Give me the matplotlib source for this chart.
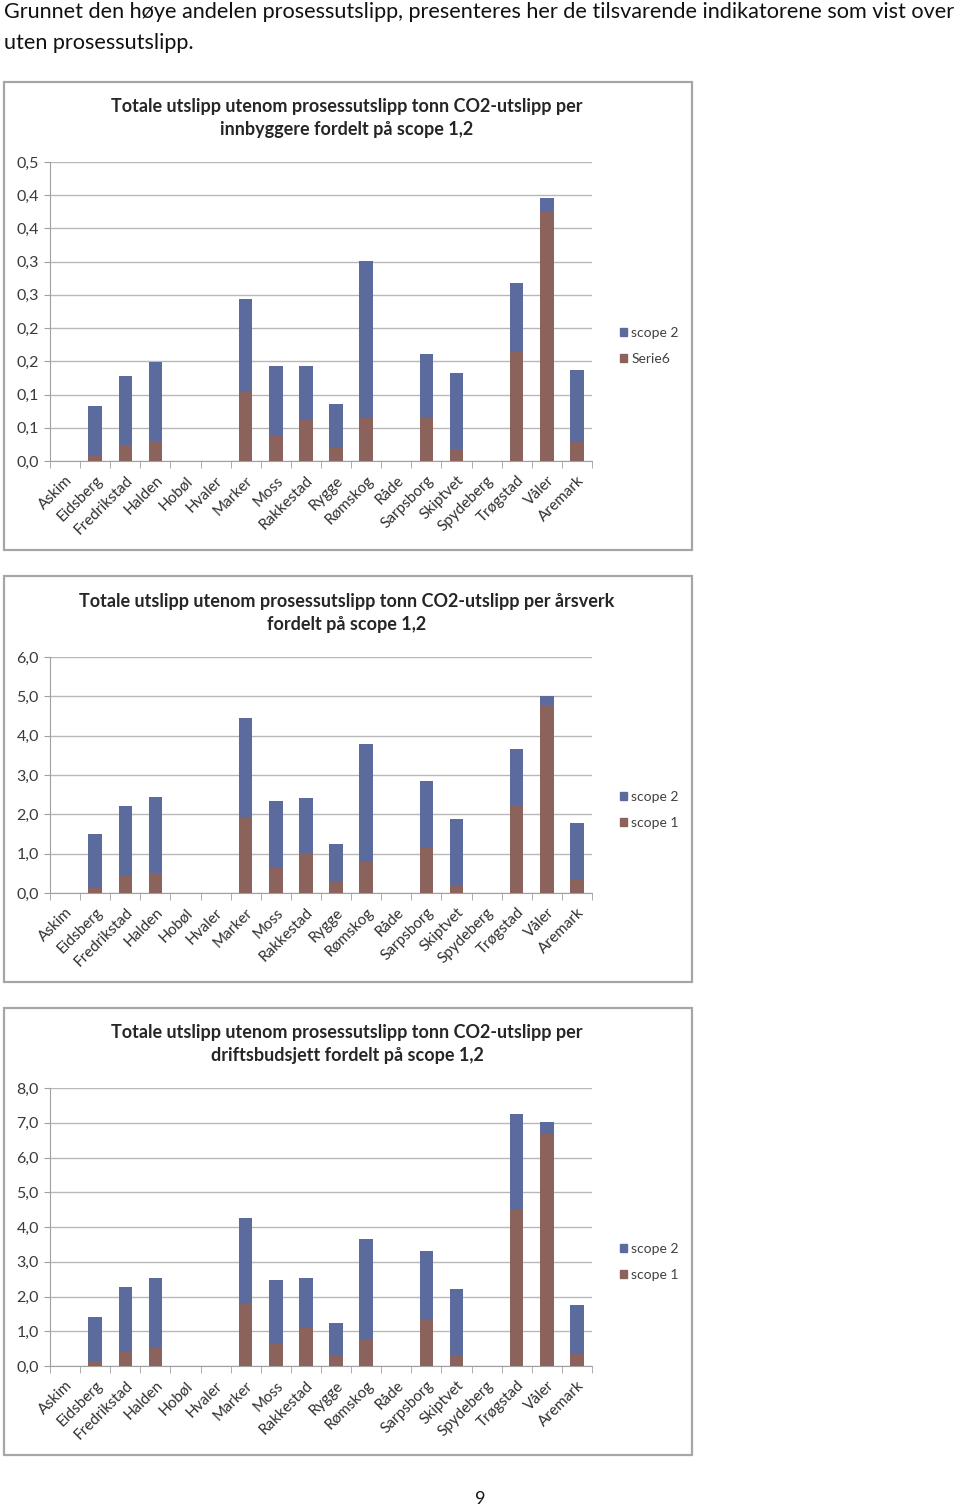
import matplotlib
matplotlib.use('Agg')
import matplotlib.pyplot as plt
from matplotlib.patches import Rectangle, Patch
from matplotlib.ticker import FixedLocator

plt.rcParams['font.family'] = ['Lato', 'DejaVu Sans']

municipalities = ['Askim', 'Eidsberg', 'Fredrikstad', 'Halden', 'Hobøl', 'Hvaler',
                  'Marker', 'Moss', 'Rakkestad', 'Rygge', 'Rømskog', 'Råde',
                  'Sarpsborg', 'Skiptvet', 'Spydeberg', 'Trøgstad', 'Våler', 'Aremark']

# per innbygger
inhab_scope1 = [0, 0.007, 0.024, 0.030, 0, 0, 0.104, 0.039, 0.062, 0.020, 0.065, 0,
                0.065, 0.018, 0, 0.164, 0.376, 0.029]
inhab_total = [0, 0.083, 0.128, 0.149, 0, 0, 0.244, 0.143, 0.143, 0.086, 0.301, 0,
               0.161, 0.132, 0, 0.268, 0.396, 0.137]

# per årsverk
work_scope1 = [0, 0.13, 0.44, 0.52, 0, 0, 1.91, 0.63, 1.01, 0.27, 0.80, 0,
               1.16, 0.21, 0, 2.23, 4.78, 0.36]
work_total = [0, 1.50, 2.21, 2.43, 0, 0, 4.45, 2.33, 2.41, 1.24, 3.78, 0,
              2.86, 1.88, 0, 3.67, 5.01, 1.79]

# per driftsbudsjett
budget_scope1 = [0, 0.14, 0.43, 0.51, 0, 0, 1.82, 0.66, 1.08, 0.29, 0.77, 0,
                 1.34, 0.31, 0, 4.48, 6.69, 0.35]
budget_total = [0, 1.41, 2.27, 2.52, 0, 0, 4.26, 2.47, 2.54, 1.25, 3.66, 0,
                3.30, 2.22, 0, 7.26, 7.01, 1.75]

BLUE = '#5B6B9D'
BROWN = '#8B635C'
GRID = '#B8B8B8'

W, H = 960, 1509
fig = plt.figure(figsize=(W / 100, H / 100), dpi=100)


def fx(px):
    return px / W


def fy(py):
    return 1 - py / H


def draw_chart(frame, plot_box, title_y, title, scope1, total, yticks, ylabels,
               legend_y, legend_labels):
    x0, y0, x1, y1 = frame
    fig.patches.append(Rectangle((fx(x0), fy(y1)), fx(x1 - x0), (y1 - y0) / H,
                                 transform=fig.transFigure, fill=False,
                                 edgecolor='#A6A6A6', linewidth=1.6))
    l, t, r, b = plot_box
    ax = fig.add_axes([fx(l), fy(b), fx(r - l), (b - t) / H])
    scope2 = [tot - s1 for tot, s1 in zip(total, scope1)]
    xs = range(len(municipalities))
    ax.bar(xs, scope1, width=0.45, color=BROWN, zorder=3)
    ax.bar(xs, scope2, bottom=scope1, width=0.45, color=BLUE, zorder=3)
    ax.set_xlim(-0.5, len(municipalities) - 0.5)
    ax.set_ylim(yticks[0], yticks[-1])
    ax.yaxis.set_major_locator(FixedLocator(yticks))
    ax.set_yticklabels(ylabels)
    ax.grid(axis='y', color=GRID, linewidth=1.0, zorder=0)
    for s in ['top', 'right']:
        ax.spines[s].set_visible(False)
    ax.spines['left'].set_color('#A0A0A0')
    ax.spines['bottom'].set_color('#A0A0A0')
    ax.tick_params(axis='y', length=4, color='#A0A0A0', labelsize=11.5,
                   labelcolor='#3A3A3A', pad=4)
    ax.set_xticks(list(xs))
    ax.set_xticklabels(municipalities, rotation=45, ha='right',
                       rotation_mode='anchor', fontsize=11, color='#303030')
    ax.tick_params(axis='x', length=0, pad=9)
    ax.set_xticks([i - 0.5 for i in range(len(municipalities) + 1)], minor=True)
    ax.tick_params(axis='x', which='minor', length=5, color='#A0A0A0')
    fig.text(fx(347), fy(title_y), title, ha='center', va='center',
             fontsize=13, fontweight='bold', color='#262626', linespacing=1.4)
    handles = [Patch(color=BLUE, label=legend_labels[0]),
               Patch(color=BROWN, label=legend_labels[1])]
    fig.legend(handles=handles, loc='center left',
               bbox_to_anchor=(fx(607), fy(legend_y)), frameon=False,
               fontsize=10, handlelength=0.55, handleheight=0.55,
               handletextpad=0.3, labelspacing=1.0, labelcolor='#404040')
    return ax


fig.text(fx(4), fy(12), 'Grunnet den høye andelen prosessutslipp, presenteres her de '
         'tilsvarende indikatorene som vist over', ha='left', va='center',
         fontsize=15.6, color='#111111')
fig.text(fx(4), fy(43), 'uten prosessutslipp.', ha='left', va='center',
         fontsize=15.6, color='#111111')

inhab_ticks = [0, 0.05, 0.10, 0.15, 0.20, 0.25, 0.30, 0.35, 0.40, 0.45]
inhab_labels = ['0,0', '0,1', '0,1', '0,2', '0,2', '0,3', '0,3', '0,4', '0,4', '0,5']
draw_chart((4, 82, 692, 550), (50, 162, 592, 461), 118,
           'Totale utslipp utenom prosessutslipp tonn CO2-utslipp per\n'
           'innbyggere fordelt på scope 1,2',
           inhab_scope1, inhab_total, inhab_ticks, inhab_labels,
           346, ['scope 2', 'Serie6'])

work_ticks = [0, 1, 2, 3, 4, 5, 6]
work_labels = ['0,0', '1,0', '2,0', '3,0', '4,0', '5,0', '6,0']
draw_chart((4, 576, 692, 982), (50, 657, 592, 893), 613,
           'Totale utslipp utenom prosessutslipp tonn CO2-utslipp per årsverk\n'
           'fordelt på scope 1,2',
           work_scope1, work_total, work_ticks, work_labels,
           810, ['scope 2', 'scope 1'])

budget_ticks = [0, 1, 2, 3, 4, 5, 6, 7, 8]
budget_labels = ['0,0', '1,0', '2,0', '3,0', '4,0', '5,0', '6,0', '7,0', '8,0']
draw_chart((4, 1008, 692, 1455), (50, 1088, 592, 1366), 1044,
           'Totale utslipp utenom prosessutslipp tonn CO2-utslipp per\n'
           'driftsbudsjett fordelt på scope 1,2',
           budget_scope1, budget_total, budget_ticks, budget_labels,
           1262, ['scope 2', 'scope 1'])

fig.text(fx(480), fy(1499), '9', ha='center', va='center', fontsize=13, color='#111111')

fig.savefig('out.png', dpi=100)
